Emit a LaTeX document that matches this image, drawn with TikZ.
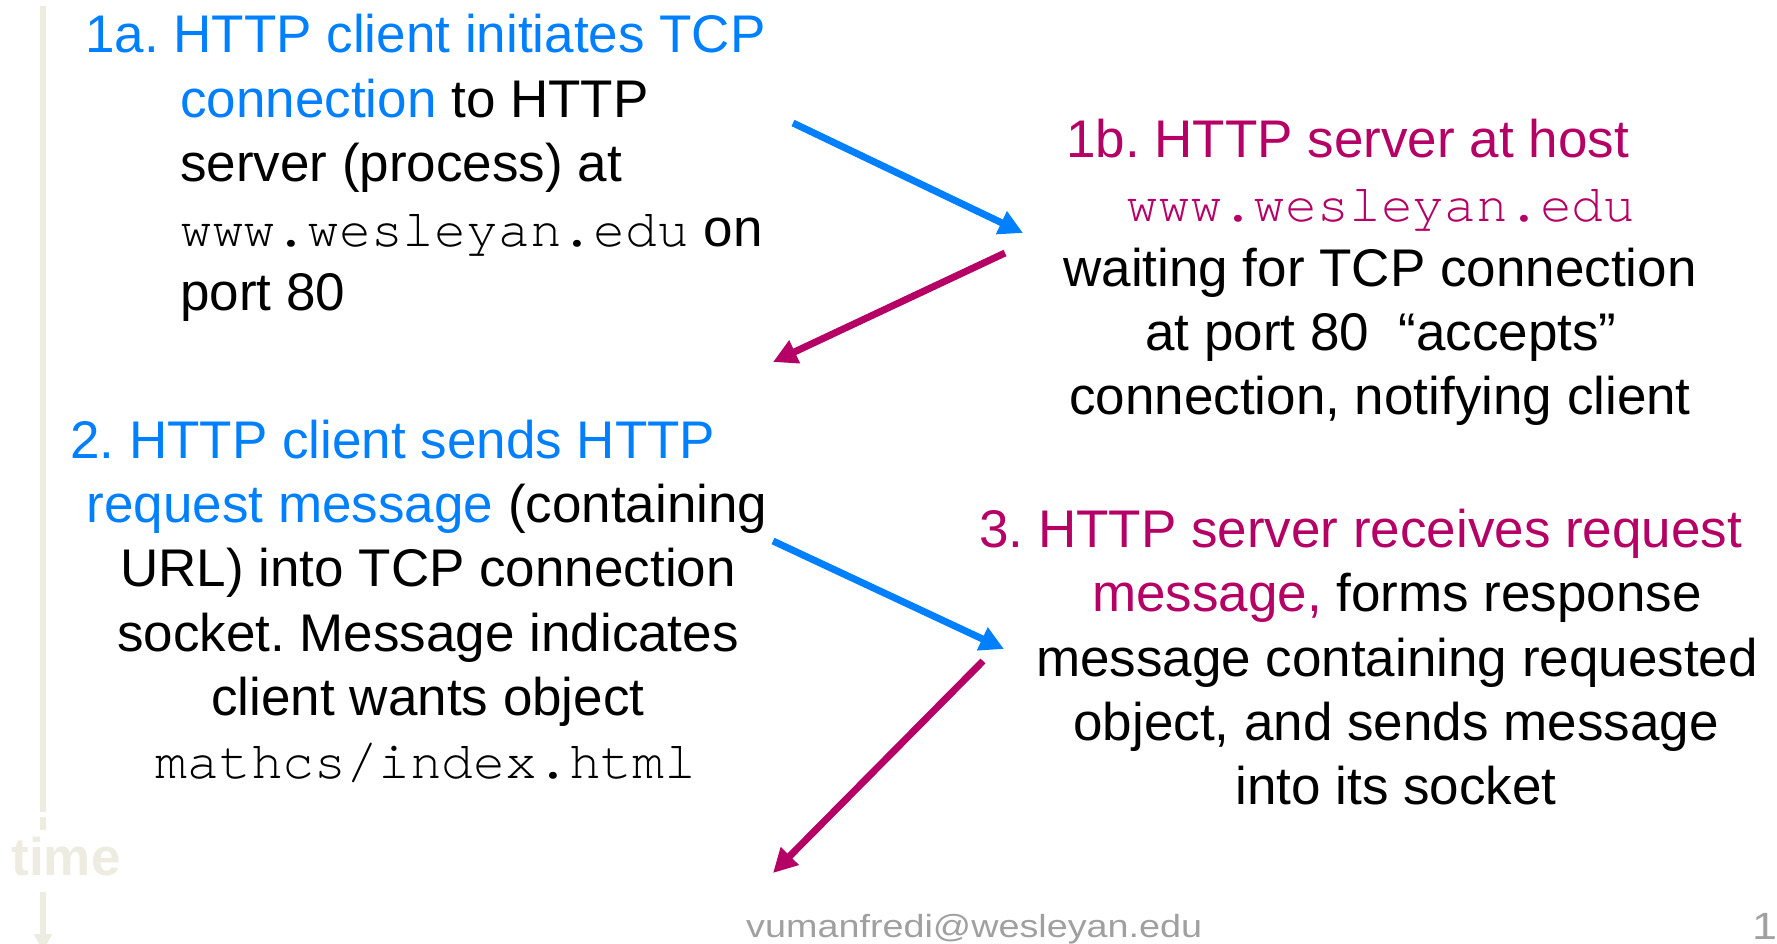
\documentclass[tikz,border=0pt]{standalone}
\usepackage{fontspec}
\setmainfont{Liberation Sans}
\setmonofont{TeX Gyre Cursor}
\newfontfamily\footfont[FakeStretch=1.18]{Liberation Sans}
\usetikzlibrary{arrows.meta}
\definecolor{cblue}{RGB}{0,128,255}
\definecolor{cmag}{RGB}{181,0,101}
\definecolor{timegray}{RGB}{238,235,224}
\definecolor{footgray}{RGB}{160,160,160}
\frenchspacing

\begin{document}
\begin{tikzpicture}[x=1pt,y=-1pt,
  txt/.style={inner sep=0pt, font=\fontsize{53}{64}\selectfont},
  ll/.style={txt, anchor=base west},
  lc/.style={txt, anchor=base},
  flow/.style={line width=7pt, -{Triangle[length=24pt,width=24pt]}},
  tline/.style={timegray, line width=5.5pt},
  foot/.style={inner sep=0pt, anchor=base west, text=footgray}]
\useasboundingbox (0,0) rectangle (1777,944);

% time axis on the left
\node[txt, anchor=base, font=\fontsize{53}{64}\selectfont\bfseries, text=timegray] (time) at (66,875) {time};
\coordinate (ttop) at (43,6);
\coordinate (tmid) at (43,812);
\coordinate (tseg1) at (43,817);
\coordinate (tseg2) at (43,830);
\coordinate (tlow) at (43,892);
\coordinate (tend) at (43,952);
\draw[tline] (ttop) -- (tmid);
\draw[tline] (tseg1) -- (tseg2);
\draw[tline, -{Triangle[length=18pt,width=17pt]}] (tlow) -- (tend);

% step 1a: client opens the connection
\node[ll] (a1) at (85,53)   {\textcolor{cblue}{1a. HTTP client initiates TCP}};
\node[ll] (a2) at (180,117.5) {\textcolor{cblue}{connection} to HTTP};
\node[ll] (a3) at (180,181.5) {server (process) at};
\node[ll] (a4) at (180,246) {\texttt{www.wesleyan.edu} on};
\node[ll] (a5) at (180,310) {port 80};

% step 1b: server accepts
\node[ll] (b1) at (1066,157.5) {\textcolor{cmag}{1b. HTTP server at host}};
\node[lc] (b2) at (1381,221.8) {\textcolor{cmag}{\ttfamily www.wesleyan.edu}};
\node[lc] (b3) at (1380,286)   {waiting for TCP connection};
\node[lc] (b4) at (1381,350.4) {at port 80~~“accepts”};
\node[lc] (b5) at (1380,414.7) {connection, notifying client};

% step 2: client sends the request
\node[ll] (c1) at (70,458)    {\textcolor{cblue}{2. HTTP client sends HTTP}};
\node[lc] (c2) at (427,522.3) {\textcolor{cblue}{request message} (containing};
\node[lc] (c3) at (428,586.6) {URL) into TCP connection};
\node[lc] (c4) at (428,651)   {socket. Message indicates};
\node[lc] (c5) at (428,715)   {client wants object};
\node[lc] (c6) at (426,778) {\ttfamily mathcs/index.html};

% step 3: server responds
\node[ll] (d1) at (979,547.4)  {\textcolor{cmag}{3. HTTP server receives request}};
\node[lc] (d2) at (1397,611.7) {\textcolor{cmag}{message,} forms response};
\node[lc] (d3) at (1397,676)   {message containing requested};
\node[lc] (d4) at (1396,740.3) {object, and sends message};
\node[lc] (d5) at (1396,804.6) {into its socket};

% message arrows
\coordinate (p1s) at (793,123);  \coordinate (p1e) at (1023,233);
\coordinate (p2s) at (1005,253); \coordinate (p2e) at (773,362);
\coordinate (p3s) at (773,541);  \coordinate (p3e) at (1004,649);
\coordinate (p4s) at (983,661);  \coordinate (p4e) at (773,873);
\draw[flow, cblue] (p1s) -- (p1e);
\draw[flow, cmag]  (p2s) -- (p2e);
\draw[flow, cblue] (p3s) -- (p3e);
\draw[flow, cmag]  (p4s) -- (p4e);

% footer
\node[foot, font=\footfont\fontsize{32}{38}\selectfont] (mail) at (746,937) {vumanfredi@wesleyan.edu};
\node[foot, font=\footfont\fontsize{38}{44}\selectfont] (page) at (1752,939) {1};
\end{tikzpicture}
\end{document}
